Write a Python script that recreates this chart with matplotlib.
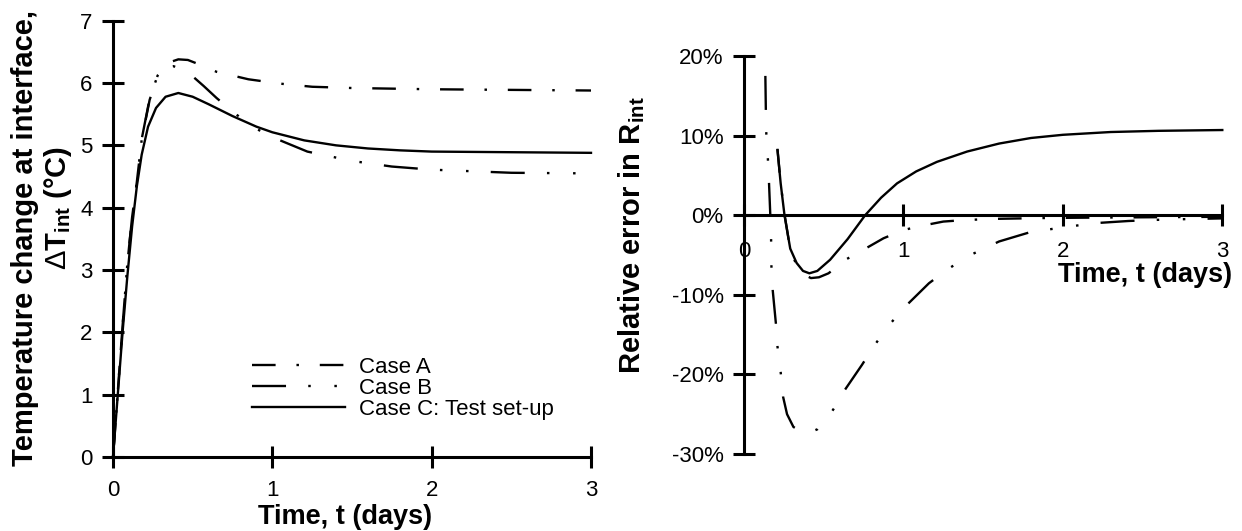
import numpy as np
import matplotlib
matplotlib.use("Agg")
import matplotlib.pyplot as plt

plt.rcParams['font.family'] = ['Liberation Sans', 'DejaVu Sans']
plt.rcParams['mathtext.fontset'] = 'custom'
plt.rcParams['mathtext.rm'] = 'Liberation Sans'
plt.rcParams['mathtext.it'] = 'Liberation Sans:italic'
plt.rcParams['mathtext.bf'] = 'Liberation Sans:bold'
plt.rcParams['lines.scale_dashes'] = False

# temperature change at the interface (deg C) vs time (days)
t_a = [0, 0.03, 0.06, 0.09, 0.12, 0.149, 0.18, 0.23, 0.28, 0.34, 0.41, 0.47,
       0.56, 0.65, 0.85, 1.05, 1.25, 1.5, 2.0, 2.5, 3.0]
dT_a = [0, 1.05, 2.1, 3.1, 3.85, 4.4, 5.09, 5.73, 6.12, 6.32, 6.38, 6.37,
        6.28, 6.18, 6.06, 5.99, 5.94, 5.92, 5.9, 5.89, 5.88]

t_b = [0, 0.03, 0.06, 0.09, 0.12, 0.149, 0.18, 0.23, 0.28, 0.33, 0.38, 0.43,
       0.49, 0.57, 0.65, 0.756, 0.88, 1.03, 1.22, 1.5, 1.75, 2.0, 2.5, 3.0]
dT_b = [0, 1.05, 2.1, 3.1, 3.85, 4.4, 5.1, 5.75, 6.12, 6.25, 6.27, 6.22,
        6.13, 5.95, 5.76, 5.53, 5.29, 5.1, 4.9, 4.75, 4.66, 4.61, 4.56, 4.55]

t_c = [0, 0.03, 0.06, 0.09, 0.12, 0.15, 0.18, 0.22, 0.27, 0.33, 0.41, 0.5,
       0.6, 0.75, 0.9, 1.0, 1.2, 1.4, 1.6, 1.8, 2.0, 2.5, 3.0]
dT_c = [0, 1.0, 2.0, 2.9, 3.7, 4.35, 4.85, 5.3, 5.6, 5.78, 5.84, 5.78,
        5.66, 5.47, 5.3, 5.21, 5.08, 5.0, 4.95, 4.92, 4.9, 4.89, 4.88]

# relative error in R_int (%)
e_ta = [0.21, 0.23, 0.255, 0.29, 0.33, 0.37, 0.42, 0.47, 0.53, 0.645, 0.77,
        0.875, 1.0, 1.14, 1.25, 1.39, 1.6, 1.9, 2.2, 2.6, 3.0]
err_a = [8.3, 4.0, 0, -4.3, -6.3, -7.4, -7.9, -7.8, -7.3, -5.5, -4.1,
         -2.9, -1.86, -1.23, -0.8, -0.6, -0.45, -0.35, -0.3, -0.25, -0.2]

e_tb = [0.134, 0.137, 0.14, 0.15, 0.157, 0.165, 0.17, 0.172, 0.18, 0.2, 0.21,
        0.23, 0.245, 0.27, 0.31, 0.36, 0.41, 0.46, 0.52, 0.58, 0.624, 0.74,
        0.82, 0.91, 1.01, 1.16, 1.28, 1.41, 1.6, 1.8, 2.05, 2.2, 2.41, 2.56,
        2.71, 3.0]
err_b = [17.5, 13.2, 10.2, 7.0, 4.0, 0, -3.1, -6.4, -9.4, -13.6, -16.5,
         -19.7, -22.8, -25.0, -26.6, -27.2, -27.3, -26.9, -25.6, -23.8, -22.2, -18.8,
         -16.3, -13.8, -11.5, -8.55, -6.76, -5.1, -3.3, -2.1, -1.4, -1.0, -0.73, -0.6,
         -0.52, -0.4]

e_tc = [0.21, 0.23, 0.254, 0.29, 0.33, 0.37, 0.41, 0.46, 0.54, 0.65, 0.76,
        0.86, 0.96, 1.08, 1.21, 1.4, 1.6, 1.8, 2.0, 2.3, 2.6, 3.0]
err_c = [8.2, 4.0, 0, -4.2, -6.0, -7.0, -7.3, -7.0, -5.6, -3.0, 0,
         2.2, 4.0, 5.5, 6.7, 8.0, 9.0, 9.7, 10.1, 10.45, 10.6, 10.7]

labels = ['Case A', 'Case B', 'Case C: Test set-up']
x_ticks = [0, 1, 2, 3]
dT_ticks = [0, 1, 2, 3, 4, 5, 6, 7]
err_ticks = [-30, -20, -10, 0, 10, 20]

dash_a = (17, 15, 1.8, 15)
dash_b = (24.5, 16, 1.8, 17, 1.8, 16)
lw = 1.7
axw = 2.2
fs = 16
lab_fs = 19.5
ylab_fs = 21

fig = plt.figure(figsize=(12.42, 5.31), dpi=100)
ax1 = fig.add_axes([113/1242, 1-457/531, (591-113)/1242, (457-20.7)/531])
ax2 = fig.add_axes([744/1242, 1-454/531, (1222.3-744)/1242, (454-56)/531])

for ax in (ax1, ax2):
    for s in ('top', 'right'):
        ax.spines[s].set_visible(False)
    for s in ('left', 'bottom'):
        ax.spines[s].set_linewidth(axw)
        ax.spines[s].set_capstyle('projecting')
    ax.tick_params(direction='inout', length=15.5, width=axw, labelsize=fs)
    ax.tick_params(axis='y', pad=7)
    ax.set_xlim(0, 3)
    ax.set_xticks(x_ticks)
ax1.tick_params(axis='x', pad=8.5)
ax2.tick_params(axis='x', pad=10.5)

# left: temperature change
ax1.plot(t_a, dT_a, color='black', lw=lw, dashes=dash_a, clip_on=False, label=labels[0])
ax1.plot(t_b, dT_b, color='black', lw=lw, dashes=dash_b, clip_on=False, label=labels[1])
ax1.plot(t_c, dT_c, color='black', lw=lw, clip_on=False, label=labels[2])
ax1.set_ylim(0, 7)
ax1.set_yticks(dT_ticks)
ax1.legend(loc='upper left', bbox_to_anchor=(139/478, (457-357)/436.3), frameon=False,
           fontsize=fs, handlelength=4.2, handletextpad=0.6, labelspacing=0.0,
           borderpad=0, borderaxespad=0)

fig.text(345/1242, 1-517/531, 'Time, t (days)', fontsize=lab_fs, fontweight='bold',
         ha='center', va='center')
fig.text(25/1242, 1-238/531, 'Temperature change at interface,', fontsize=ylab_fs,
         fontweight='bold', rotation=90, ha='center', va='center')
fig.text(58/1242, 1-208/531, r'$\Delta$T$_{\mathregular{int}}$ (°C)', fontsize=ylab_fs,
         fontweight='bold', rotation=90, ha='center', va='center')

# right: relative error
ax2.plot(e_ta, err_a, color='black', lw=lw, dashes=dash_a, clip_on=False)
ax2.plot(e_tb, err_b, color='black', lw=lw, dashes=dash_b, clip_on=False)
ax2.plot(e_tc, err_c, color='black', lw=lw, clip_on=False)
ax2.set_ylim(-30, 20)
ax2.set_yticks(err_ticks)
ax2.set_yticklabels([f'{v}%' for v in err_ticks])
ax2.spines['bottom'].set_position(('data', 0))

fig.text(1231.7/1242, 1-275/531, 'Time, t (days)', fontsize=lab_fs, fontweight='bold',
         ha='right', va='center')
fig.text(632/1242, 1-235/531, r'Relative error in R$_{\mathregular{int}}$', fontsize=ylab_fs,
         fontweight='bold', rotation=90, ha='center', va='center')

fig.savefig('out.png', dpi=100)
